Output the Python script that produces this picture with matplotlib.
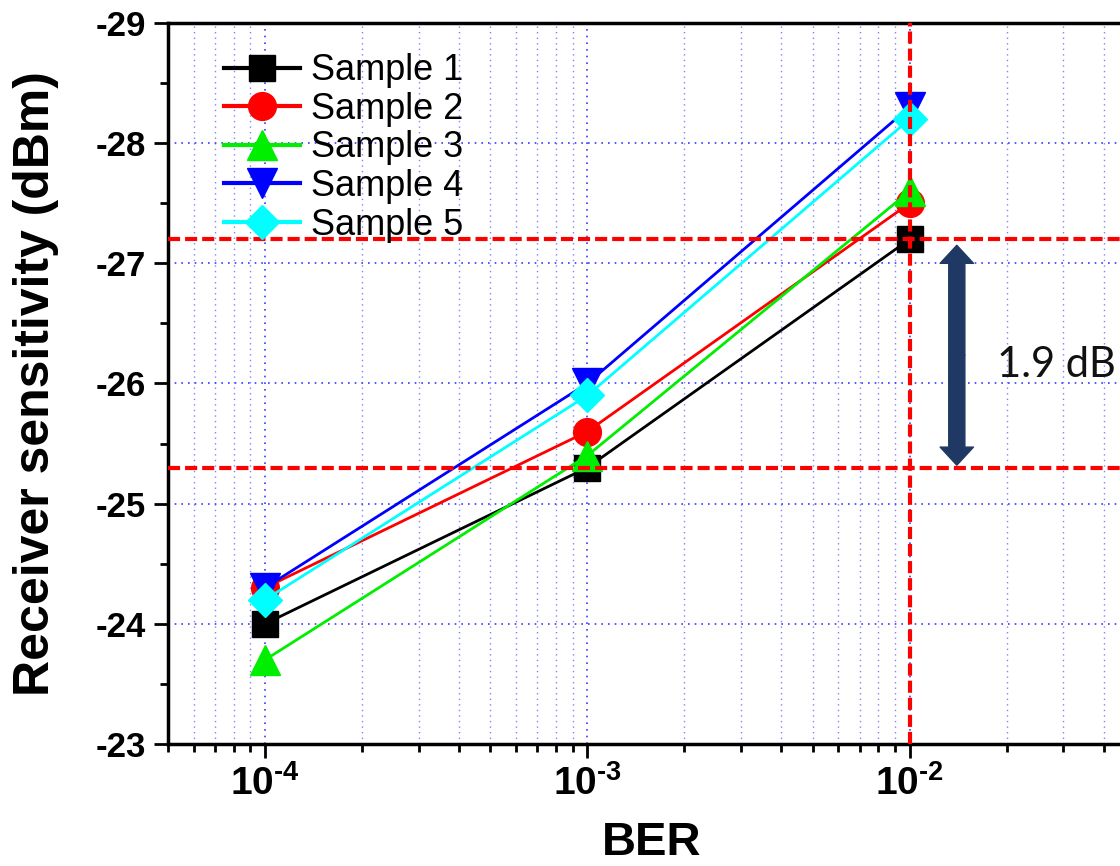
import matplotlib
matplotlib.use("Agg")
import matplotlib.pyplot as plt
from matplotlib.ticker import LogLocator, NullFormatter, FixedLocator, MultipleLocator

# ---- data ----
ber = [1e-4, 1e-3, 1e-2]
sample1 = [-24.0, -25.3, -27.2]
sample2 = [-24.3, -25.6, -27.5]
sample3 = [-23.7, -25.4, -27.6]
sample4 = [-24.3, -26.0, -28.3]
sample5 = [-24.2, -25.9, -28.2]
series_names = ["Sample 1", "Sample 2", "Sample 3", "Sample 4", "Sample 5"]
ref_h_lines = [-27.2, -25.3]
ref_v_line = 1e-2
xtick_vals = [1e-4, 1e-3, 1e-2]
xtick_labels = [r"$10^{\text{-}4}$", r"$10^{\text{-}3}$", r"$10^{\text{-}2}$"]
ytick_vals = [-29, -28, -27, -26, -25, -24, -23]
delta_label = "1.9 dB"
arrow_x = 1.4e-2
arrow_y = [-27.15, -25.32]
text_pos = (1.87e-2, -26.15)

plt.rcParams['font.family'] = ['Liberation Sans', 'DejaVu Sans']
plt.rcParams['mathtext.fontset'] = 'custom'
plt.rcParams['mathtext.rm'] = 'Liberation Sans:bold'
plt.rcParams['mathtext.bf'] = 'Liberation Sans:bold'
plt.rcParams['mathtext.it'] = 'Liberation Sans:bold'

fig = plt.figure(figsize=(11.2, 8.66), dpi=100)
ax = fig.add_axes([0.15, 0.1409, 0.8634, 0.8326])

styles = [
    dict(color='black', marker='s', mfc='black'),
    dict(color='red', marker='o', mfc='red'),
    dict(color='#00ee00', marker='^', mfc='#00ee00'),
    dict(color='blue', marker='v', mfc='blue'),
    dict(color='cyan', marker='D', mfc='cyan'),
]
msizes = [19, 20, 21, 21, 17]
for ys, name, st, ms in zip([sample1, sample2, sample3, sample4, sample5], series_names, styles, msizes):
    ax.plot(ber, ys, label=name, lw=2, ms=ms, mec=st['mfc'], zorder=3, **st)

for yv in ref_h_lines:
    ax.axhline(yv, color='red', lw=3, dashes=(2.9, 1.2), zorder=4)
ax.axvline(ref_v_line, color='red', lw=3, dashes=(2.9, 1.2), zorder=4)

ax.set_xscale('log')
ax.set_xlim(5e-5, 5e-2)
ax.set_ylim(-23, -29)

ax.xaxis.set_major_locator(FixedLocator(xtick_vals))
ax.set_xticklabels(xtick_labels)
ax.xaxis.set_minor_locator(LogLocator(base=10, subs=range(2, 10), numticks=20))
ax.xaxis.set_minor_formatter(NullFormatter())
ax.set_yticks(ytick_vals)
ax.set_yticklabels([str(v) for v in ytick_vals], fontweight='bold')
ax.yaxis.set_minor_locator(MultipleLocator(0.5))

ax.tick_params(axis='both', which='major', direction='out', length=10, width=2)
ax.tick_params(axis='both', which='minor', direction='out', length=6, width=2)
ax.tick_params(axis='x', which='major', labelsize=28, pad=5)
ax.tick_params(axis='y', which='major', labelsize=25, pad=6)
for sp in ax.spines.values():
    sp.set_linewidth(2.5)

ax.grid(True, which='major', axis='both', color='#3b3bff', linestyle=(0, (1, 3)), lw=1.2)
ax.grid(True, which='minor', axis='x', color='#8080ff', linestyle=(0, (1, 3)), lw=1.0)
ax.set_axisbelow(True)

ax.set_xlabel("BER", fontsize=34, fontweight='bold', labelpad=13)
ax.set_ylabel("Receiver sensitivity (dBm)", fontsize=36, fontweight='bold', labelpad=26)

leg = ax.legend(loc='upper left', bbox_to_anchor=(0.058, 0.958), frameon=False,
                fontsize=26, borderpad=0, borderaxespad=0, labelspacing=0.1,
                handlelength=2.1, handletextpad=0.3, markerscale=1.0)
for h in leg.legend_handles:
    h.set_linewidth(3)

# double arrow (two halves from the midpoint)
mid = (arrow_y[0] + arrow_y[1]) / 2
for yend in arrow_y:
    ax.annotate("", xy=(arrow_x, yend), xytext=(arrow_x, mid),
                arrowprops=dict(arrowstyle='simple,head_length=0.65,head_width=1.2,tail_width=0.58',
                                color='#203864', mutation_scale=20, shrinkA=0, shrinkB=0), zorder=5)
ax.text(text_pos[0], text_pos[1], delta_label, fontsize=30, family=['Lato', 'DejaVu Sans'],
        va='center', ha='left', color='#111111', zorder=6)

fig.savefig("out.png", dpi=100)
